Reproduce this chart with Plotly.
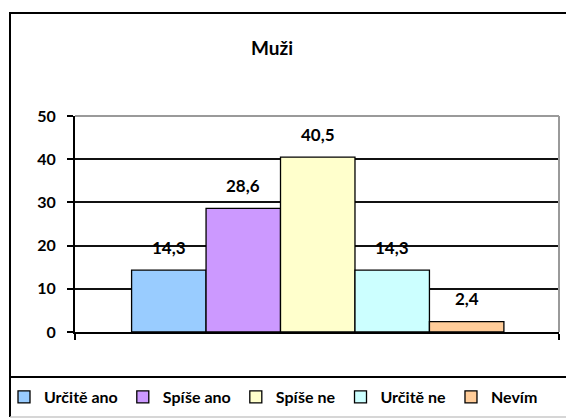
import plotly.graph_objects as go

categories = ["Určitě ano", "Spíše ano", "Spíše ne", "Určitě ne", "Nevím"]
values = [14.3, 28.6, 40.5, 14.3, 2.4]
labels = ["14,3", "28,6", "40,5", "14,3", "2,4"]
colors = ["#99CCFF", "#CC99FF", "#FFFFCC", "#CCFFFF", "#FFCC99"]
y_ticks = [0, 10, 20, 30, 40, 50]
title_text = "Muži"

W, H = 566, 419
FONT = "Lato, 'Open Sans', sans-serif"

fig = go.Figure()
for i, (name, v, c) in enumerate(zip(categories, values, colors)):
    fig.add_trace(go.Bar(
        x=[i], y=[v], width=1, name=name,
        marker=dict(color=c, line=dict(color="#000000", width=1.3)),
        hoverinfo="skip",
    ))

annotations = []
for i, (v, lab) in enumerate(zip(values, labels)):
    annotations.append(dict(
        x=i, y=v, xref="x", yref="y", text="<b>%s</b>" % lab, showarrow=False,
        yanchor="middle", yshift=23, font=dict(family=FONT, size=17, color="#000000"),
    ))

shapes = [
    # outer chart frame
    dict(type="rect", xref="paper", yref="paper", x0=10 / W, x1=1.02, y0=1 - 377 / H, y1=1 - 13 / H,
         line=dict(color="#000000", width=2), layer="below"),
    # legend frame left & bottom
    dict(type="line", xref="paper", yref="paper", x0=10 / W, x1=10 / W, y0=1 - 417 / H, y1=1 - 377 / H,
         line=dict(color="#000000", width=2)),
    dict(type="line", xref="paper", yref="paper", x0=10 / W, x1=1.0, y0=1 - 417 / H, y1=1 - 417 / H,
         line=dict(color="#C8C8C8", width=1.5)),
    # plot area top and right borders (gray)
    dict(type="line", xref="x domain", yref="y domain", x0=0, x1=1, y0=1, y1=1,
         line=dict(color="#9A9A9A", width=2), layer="above"),
    dict(type="line", xref="x domain", yref="y domain", x0=1, x1=1, y0=0, y1=1,
         line=dict(color="#9A9A9A", width=2), layer="above"),
]

fig.update_layout(
    width=W, height=H,
    margin=dict(l=0, r=0, t=0, b=0, pad=0, autoexpand=False),
    paper_bgcolor="#FFFFFF", plot_bgcolor="#FFFFFF",
    barmode="overlay",
    title=dict(text="<b>%s</b>" % title_text, xref="container", yref="container",
               x=272 / W, y=1 - 48 / H, xanchor="center", yanchor="middle",
               font=dict(family=FONT, size=19, color="#000000")),
    showlegend=True,
    legend=dict(orientation="h", xref="container", yref="container",
                x=4 / W, xanchor="left", y=1 - 397 / H, yanchor="middle",
                font=dict(family=FONT, size=16, color="#000000", weight="bold"),
                bgcolor="rgba(0,0,0,0)", tracegroupgap=0, itemwidth=30),
    font=dict(family=FONT, color="#000000"),
    xaxis=dict(domain=[75 / W, 559 / W], range=[-1.26, 5.24], showgrid=False, zeroline=False,
               automargin=False,
               showline=True, linecolor="#000000", linewidth=2,
               tickmode="array", tickvals=[-1.26, 5.24], ticktext=["", ""],
               ticks="outside", ticklen=6, tickwidth=2, tickcolor="#000000"),
    yaxis=dict(domain=[1 - 332 / H, 1 - 116 / H], range=[0, 50], tickmode="array", tickvals=y_ticks,
               automargin=False,
               showgrid=True, gridcolor="#111111", gridwidth=1.6, zeroline=False,
               showline=True, linecolor="#000000", linewidth=2,
               ticks="outside", ticklen=6, tickwidth=2, tickcolor="#000000",
               ticklabelstandoff=8,
               tickfont=dict(family=FONT, size=16, color="#000000", weight="bold")),
    annotations=annotations,
    shapes=shapes,
)

fig.write_html(
    "out.html",
    config={"displayModeBar": False},
    post_script="document.body.style.margin='0';document.body.style.padding='0';"
                "document.documentElement.style.overflow='hidden';document.body.style.overflow='hidden';",
)
